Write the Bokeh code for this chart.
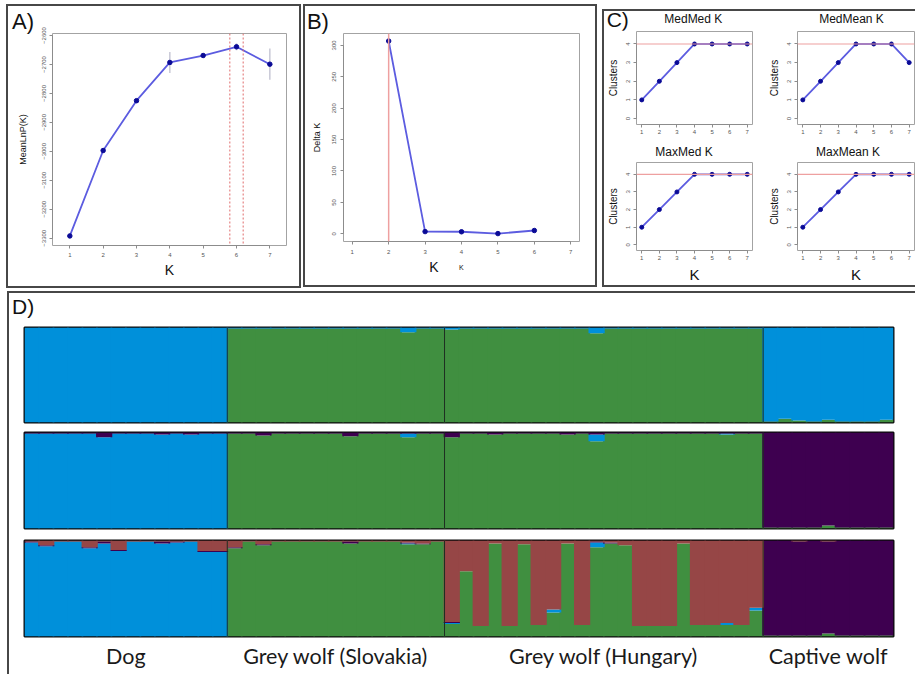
import numpy as np
from bokeh.plotting import figure
from bokeh.layouts import row, column
from bokeh.models import Range1d, FixedTicker, LinearAxis, Span, ColumnDataSource, Div
from bokeh.embed import file_html
from bokeh.resources import INLINE

# ---------------- data ----------------
k_values = [1, 2, 3, 4, 5, 6, 7]
mean_lnp_k = [-3292, -2997, -2825, -2693, -2669, -2639, -2699]
mean_lnp_sd = [4, 6, 6, 36, 6, 12, 54]
mean_lnp_ticks = [-3300, -3200, -3100, -3000, -2900, -2800, -2700, -2600]
best_k_band = [5.8, 6.2]

delta_k_x = [2, 3, 4, 5, 6]
delta_k = [307, 3.5, 3.2, 0.3, 5.2]
delta_k_ticks = [0, 50, 100, 150, 200, 250, 300]
delta_k_best = 2

cluster_ticks = [0, 1, 2, 3, 4]
medmed_k = [1, 2, 3, 4, 4, 4, 4]
medmean_k = [1, 2, 3, 4, 4, 4, 3]
maxmed_k = [1, 2, 3, 4, 4, 4, 4]
maxmean_k = [1, 2, 3, 4, 4, 4, 4]
cluster_ref = 4
c_titles = ["MedMed K", "MedMean K", "MaxMed K", "MaxMean K"]

groups = ["Dog", "Grey wolf (Slovakia)", "Grey wolf (Hungary)", "Captive wolf"]
group_sizes = [14, 15, 22, 9]

# K = 2 (bottom -> top: green, blue)
k2_green = ([0.00] * 14
            + [0.99, 0.99, 0.99, 0.99, 0.99, 0.99, 0.99, 0.99, 0.99, 0.99, 0.99, 0.99, 0.95, 0.99, 0.99]
            + [0.98, 0.99, 0.99, 0.99, 0.99, 0.99, 0.99, 0.99, 0.99, 0.99, 0.94, 0.99, 0.99, 0.99, 0.99,
               0.99, 0.99, 0.99, 0.99, 0.99, 0.99, 0.99]
            + [0.01, 0.04, 0.02, 0.01, 0.03, 0.01, 0.01, 0.01, 0.03])
k2_blue = ([1.00] * 14
           + [0.01, 0.01, 0.01, 0.01, 0.01, 0.01, 0.01, 0.01, 0.01, 0.01, 0.01, 0.01, 0.05, 0.01, 0.01]
           + [0.02, 0.01, 0.01, 0.01, 0.01, 0.01, 0.01, 0.01, 0.01, 0.01, 0.06, 0.01, 0.01, 0.01, 0.01,
              0.01, 0.01, 0.01, 0.01, 0.01, 0.01, 0.01]
           + [0.99, 0.96, 0.98, 0.99, 0.97, 0.99, 0.99, 0.99, 0.97])

# K = 3 (bottom -> top: green, blue, purple)
k3_green = ([0.00] * 14
            + [0.99, 0.99, 0.97, 0.99, 0.99, 0.99, 0.99, 0.99, 0.96, 0.99, 0.99, 0.99, 0.95, 0.99, 0.99]
            + [0.95, 0.99, 0.99, 0.98, 0.99, 0.99, 0.99, 0.99, 0.98, 0.99, 0.91, 0.99, 0.99, 0.99, 0.99,
               0.99, 0.99, 0.99, 0.99, 0.98, 0.99, 0.99]
            + [0.01, 0.01, 0.01, 0.01, 0.03, 0.01, 0.01, 0.01, 0.01])
k3_blue = ([0.99, 0.99, 0.99, 0.99, 0.99, 0.95, 0.99, 0.99, 0.99, 0.98, 0.99, 0.98, 0.99, 0.99]
           + [0.00] * 12 + [0.04, 0.00, 0.00]
           + [0.00] * 10 + [0.07] + [0.00] * 8 + [0.01, 0.00, 0.00]
           + [0.00] * 9)
k3_purple = ([0.01, 0.01, 0.01, 0.01, 0.01, 0.05, 0.01, 0.01, 0.01, 0.02, 0.01, 0.02, 0.01, 0.01]
             + [0.01, 0.01, 0.03, 0.01, 0.01, 0.01, 0.01, 0.01, 0.04, 0.01, 0.01, 0.01, 0.01, 0.01, 0.01]
             + [0.05, 0.01, 0.01, 0.02, 0.01, 0.01, 0.01, 0.01, 0.02, 0.01, 0.02, 0.01, 0.01, 0.01, 0.01,
                0.01, 0.01, 0.01, 0.01, 0.01, 0.01, 0.01]
             + [0.99, 0.99, 0.99, 0.99, 0.97, 0.99, 0.99, 0.99, 0.99])

# K = 4 (bottom -> top: green, blue, purple, red)
k4_green = ([0.00] * 14
            + [0.92, 0.99, 0.95, 0.99, 0.99, 0.99, 0.99, 0.99, 0.97, 0.99, 0.99, 0.99, 0.96, 0.96, 0.99]
            + [0.13, 0.68, 0.11, 0.97, 0.11, 0.96, 0.12, 0.25, 0.97, 0.12, 0.93, 0.97, 0.95, 0.11, 0.11,
               0.11, 0.97, 0.12, 0.12, 0.12, 0.12, 0.27]
            + [0.01, 0.01, 0.01, 0.01, 0.03, 0.01, 0.01, 0.01, 0.01])
k4_blue = ([0.98, 0.94, 0.99, 0.99, 0.92, 0.97, 0.89, 0.99, 0.99, 0.97, 0.98, 0.99, 0.88, 0.88]
           + [0.00] * 12 + [0.01, 0.00, 0.00]
           + [0.01, 0.00, 0.00, 0.00, 0.00, 0.00, 0.00, 0.03, 0.00, 0.00, 0.05, 0.00, 0.00, 0.00, 0.00,
              0.00, 0.00, 0.00, 0.00, 0.02, 0.00, 0.03]
           + [0.00] * 9)
k4_purple = ([0.01, 0.01, 0.00, 0.00, 0.01, 0.02, 0.01, 0.00, 0.00, 0.02, 0.01, 0.00, 0.01, 0.01]
             + [0.01, 0.00, 0.01, 0.00, 0.00, 0.00, 0.00, 0.00, 0.02, 0.00, 0.00, 0.00, 0.01, 0.01, 0.00]
             + [0.01, 0.00, 0.00, 0.00, 0.00, 0.00, 0.00, 0.00, 0.00, 0.00, 0.01, 0.01, 0.00, 0.00, 0.00,
                0.00, 0.00, 0.00, 0.00, 0.00, 0.00, 0.00]
             + [0.99, 0.99, 0.98, 0.99, 0.96, 0.99, 0.99, 0.99, 0.99])
k4_red = ([0.01, 0.05, 0.01, 0.01, 0.07, 0.01, 0.10, 0.01, 0.01, 0.01, 0.01, 0.01, 0.11, 0.11]
          + [0.07, 0.01, 0.04, 0.01, 0.01, 0.01, 0.01, 0.01, 0.01, 0.01, 0.01, 0.01, 0.02, 0.03, 0.01]
          + [0.85, 0.32, 0.89, 0.03, 0.89, 0.04, 0.88, 0.72, 0.03, 0.88, 0.01, 0.02, 0.05, 0.89, 0.89,
             0.89, 0.03, 0.88, 0.88, 0.86, 0.88, 0.70]
          + [0.00, 0.00, 0.01, 0.00, 0.01, 0.00, 0.00, 0.00, 0.00])

# ---------------- style helpers ----------------
def X(v):
    return int(round(v))


Y = X

FONT = "Liberation Sans"
BORDER = "2px solid #474747"
C_GREEN, C_BLUE, C_RED, C_PURPLE = "#408f40", "#0090da", "#964646", "#3e0050"
LINE_C, PT_C = "#5c5ce0", "#0a0a96"
AXIS_C = "#8c8c8c"


def make_fig(inner, frame, xr, yr):
    ix0, iy0, ix1, iy1 = inner
    fx0, fy0, fx1, fy1 = X(frame[0]), Y(frame[1]), X(frame[2]), Y(frame[3])
    p = figure(width=ix1 - ix0, height=iy1 - iy0, x_range=Range1d(*xr), y_range=Range1d(*yr),
               output_backend="svg", toolbar_location=None,
               x_axis_location=None, y_axis_location=None,
               min_border_left=fx0 - ix0, min_border_right=ix1 - fx1,
               min_border_top=fy0 - iy0, min_border_bottom=iy1 - fy1)
    p.grid.visible = False
    p.outline_line_color = "#a3a3a3"
    p.outline_line_width = 1
    p.background_fill_color = "white"
    p.border_fill_color = "white"
    return p


def style_axis(ax, label_size, standoff, label_standoff, tick_size="6px"):
    ax.axis_line_color = AXIS_C
    ax.major_tick_line_color = AXIS_C
    ax.minor_tick_line_color = None
    ax.major_tick_out = 3
    ax.major_tick_in = 0
    ax.major_label_text_font = FONT
    ax.major_label_text_font_size = tick_size
    ax.major_label_text_color = "#555555"
    ax.major_label_standoff = standoff
    ax.axis_label_text_font = FONT
    ax.axis_label_text_font_size = label_size
    ax.axis_label_text_font_style = "normal"
    ax.axis_label_text_color = "#111111"
    ax.axis_label_standoff = label_standoff


def set_title(p, text, size, offset):
    p.title.text = text
    p.title.align = "left"
    p.title.offset = offset
    p.title.standoff = 0
    p.title.vertical_align = "bottom"
    p.title.text_font = FONT
    p.title.text_font_size = size
    p.title.text_font_style = "normal"
    p.title.text_color = "#111111"


def text_band(x0, y0, x1, y1, items):
    """A strip of free text; items = (x, baseline, text, size_px, align)."""
    parts = []
    for (x, base, text, size, align) in items:
        top = base - y0 - 0.6965 * size
        tx = "transform:translateX(-50%);" if align == "center" else ""
        parts.append(
            f'<div style="position:absolute;left:{x - x0:.1f}px;top:{top:.1f}px;{tx}'
            f'font-family:\'Liberation Sans\',Arial,sans-serif;font-size:{size}px;line-height:0.7;'
            f'white-space:nowrap;color:#111111;">{text}</div>')
    html = (f'<div style="position:relative;width:{x1 - x0}px;height:{y1 - y0}px;">'
            + "".join(parts) + "</div>")
    return Div(text=html, width=x1 - x0, height=y1 - y0, margin=0, styles={"overflow": "visible"})


# ---------------- panel A ----------------
innerA = (8, 6, 299, 286)
pA = make_fig(innerA, (52, 33, 286, 245), (0.48, 7.5), (-3325, -2593))
lo = [m - s for m, s in zip(mean_lnp_k, mean_lnp_sd)]
hi = [m + s for m, s in zip(mean_lnp_k, mean_lnp_sd)]
pA.segment(x0=k_values, y0=lo, x1=k_values, y1=hi, line_color="#c8c8d6", line_width=1.5)
for v in best_k_band:
    pA.add_layout(Span(location=v, dimension="height", line_color="#e06a6a", line_dash="2 2", line_width=1))
pA.line(k_values, mean_lnp_k, line_color=LINE_C, line_width=1.8)
pA.scatter(k_values, mean_lnp_k, size=4.5, color=PT_C)
ya = LinearAxis(ticker=FixedTicker(ticks=mean_lnp_ticks), bounds=(min(mean_lnp_ticks), max(mean_lnp_ticks)),
                axis_label="MeanLnP(K)")
style_axis(ya, "9px", 3, 12)
ya.major_label_orientation = "vertical"
pA.add_layout(ya, "left")
xa = LinearAxis(ticker=FixedTicker(ticks=k_values), bounds=(1, 7), axis_label="K")
style_axis(xa, "14px", 4, 2)
pA.add_layout(xa, "below")
set_title(pA, "A)", "22px", 11.5 - 52)
boxA = column(pA, styles={"border": BORDER}, margin=(4, 0, 0, 6))

# ---------------- panel B ----------------
innerB = (305, 6, 595, 258)
pB = make_fig(innerB, (343.3, 32.3, 579.3, 240.7), (0.76, 7.24), (-12.3, 319))
pB.add_layout(Span(location=delta_k_best, dimension="height", line_color="#eea0a0", line_width=1.5))
pB.line(delta_k_x, delta_k, line_color=LINE_C, line_width=1.8)
pB.scatter(delta_k_x, delta_k, size=4.5, color=PT_C)
yb = LinearAxis(ticker=FixedTicker(ticks=delta_k_ticks), bounds=(0, 300), axis_label="Delta K")
style_axis(yb, "9px", 4, 8)
yb.major_label_orientation = "vertical"
pB.add_layout(yb, "left")
xb = LinearAxis(ticker=FixedTicker(ticks=k_values), bounds=(1, 7))
style_axis(xb, "7px", 5, 9)
pB.add_layout(xb, "below")
set_title(pB, "B)", "22px", 306.7 - 343.3)
bandB = text_band(305, 258, 595, 285, [(434, 272.7, "K", 14, "center"), (461.3, 270.7, "K", 7, "center")])
boxB = column(pB, bandB, styles={"border": BORDER}, margin=(4, 0, 0, 2))

# ---------------- panel C ----------------
cx0, cy0, cx1, cy1 = 604, 11, 915, 285
xs = 760
c_specs = [
    (medmed_k, (cx0, 30, xs, 142), (635, 31, 751.7, 124), False),
    (medmean_k, (xs, 30, cx1, 142), (796.7, 31, 914, 124), False),
    (maxmed_k, (cx0, 160, xs, cy1), (635.7, 162.3, 751.7, 254.3), True),
    (maxmean_k, (xs, 160, cx1, cy1), (796.7, 162.3, 914, 254.3), True),
]
c_figs = []
for vals, inner, frame, show_k in c_specs:
    pc = make_fig(inner, frame, (0.7, 7.3), (-0.32, 4.67))
    pc.add_layout(Span(location=cluster_ref, dimension="width", line_color="#eea0a0", line_width=1.2))
    pc.line(k_values, vals, line_color=LINE_C, line_width=1.8)
    pc.scatter(k_values, vals, size=4, color=PT_C)
    yc = LinearAxis(ticker=FixedTicker(ticks=cluster_ticks), bounds=(0, 4), axis_label="Clusters")
    style_axis(yc, "10px", 3, 5)
    yc.major_label_orientation = "vertical"
    pc.add_layout(yc, "left")
    xc = LinearAxis(ticker=FixedTicker(ticks=k_values), bounds=(1, 7), axis_label="K" if show_k else None)
    style_axis(xc, "15px", 2, 3)
    pc.add_layout(xc, "below")
    c_figs.append(pc)
headC = text_band(cx0, cy0, cx1, 30, [(606.7, 27.5, "C)", 21, "left"),
                                      (693.3, 23.3, c_titles[0], 12, "center"),
                                      (851.5, 23.3, c_titles[1], 12, "center")])
midC = text_band(cx0, 142, cx1, 160, [(684, 156, c_titles[2], 12, "center"),
                                      (848, 156, c_titles[3], 12, "center")])
boxC = column(headC, row(c_figs[0], c_figs[1]), midC, row(c_figs[2], c_figs[3]),
              styles={"border-left": BORDER, "border-top": BORDER, "border-bottom": BORDER},
              margin=(9, 0, 0, 5))

# ---------------- panel D ----------------
dx0, dx1 = 9, 915
n_ind = sum(group_sizes)
ind_x = list(np.arange(n_ind) + 0.5)
bounds_g = list(np.cumsum(group_sizes)[:-1])
centers = [float(c - s / 2.0) for c, s in zip(np.cumsum(group_sizes), group_sizes)]

rows_spec = [
    ({"green": k2_green, "blue": k2_blue}, ["green", "blue"], [C_GREEN, C_BLUE],
     (dx0, 321, dx1, 427), (24.3, 326.8, 893.3, 421.8)),
    ({"green": k3_green, "blue": k3_blue, "purple": k3_purple}, ["green", "blue", "purple"],
     [C_GREEN, C_BLUE, C_PURPLE], (dx0, 427, dx1, 534), (24.3, 432.5, 893.3, 528.3)),
    ({"green": k4_green, "blue": k4_blue, "purple": k4_purple, "red": k4_red},
     ["green", "blue", "purple", "red"], [C_GREEN, C_BLUE, C_PURPLE, C_RED],
     (dx0, 534, dx1, 674), (24.3, 540.3, 893.3, 635.8)),
]
d_figs = []
for cols, stackers, colors, inner, frame in rows_spec:
    pd_ = make_fig(inner, frame, (0, n_ind), (0, 1))
    src = ColumnDataSource(dict(x=ind_x, **cols))
    pd_.vbar_stack(stackers, x="x", width=1.12, fill_color=colors, line_color=None, source=src)
    for b in bounds_g:
        pd_.add_layout(Span(location=float(b), dimension="height", line_color="#1f2f22", line_width=1))
    pd_.outline_line_color = "#0a0a0a"
    pd_.outline_line_width = 2
    d_figs.append(pd_)

xd = LinearAxis(ticker=FixedTicker(ticks=centers),
                major_label_overrides={c: g for c, g in zip(centers, groups)})
xd.axis_line_color = None
xd.major_tick_line_color = None
xd.minor_tick_line_color = None
xd.major_tick_out = 0
xd.major_tick_in = 0
xd.major_label_standoff = 6
xd.major_label_text_font = "Lato"
xd.major_label_text_font_size = "21.5px"
xd.major_label_text_color = "#1a1a1a"
d_figs[2].add_layout(xd, "below")
headD = text_band(dx0, 293, dx1, 321, [(12, 315, "D)", 21, "left")])
boxD = column(headD, *d_figs, styles={"border-left": BORDER, "border-top": BORDER},
              margin=(3, 0, 0, 7))

layout = column(row(boxA, boxB, boxC), boxD)
open("out.html", "w").write(file_html(layout, INLINE))
